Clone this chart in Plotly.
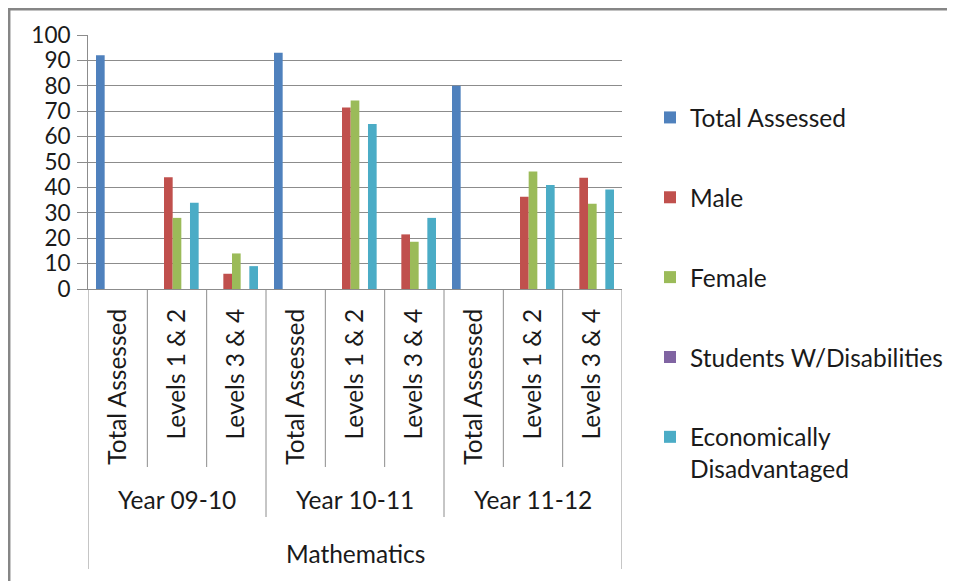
import plotly.graph_objects as go

# ---- data ----
inner_labels = ["Total Assessed", "Levels 1 & 2", "Levels 3 & 4",
                "Total Assessed", "Levels 1 & 2", "Levels 3 & 4",
                "Total Assessed", "Levels 1 & 2", "Levels 3 & 4"]
year_labels = ["Year 09-10", "Year 10-11", "Year 11-12"]
subject_label = "Mathematics"

total_assessed = [92, 0, 0, 93, 0, 0, 80, 0, 0]
male = [0, 44, 6, 0, 71.5, 21.5, 0, 36.3, 43.8]
female = [0, 28, 14, 0, 74.2, 18.6, 0, 46.3, 33.6]
disabilities = [0, 0, 0, 0, 0, 0, 0, 0, 0]
econ = [0, 34, 9, 0, 65, 28, 0, 40.9, 39.2]

series_names = ["Total Assessed", "Male", "Female", "Students W/Disabilities",
                "Economically<br>Disadvantaged"]
series_values = [total_assessed, male, female, disabilities, econ]
colors = ["#4F81BD", "#C0504D", "#9BBB59", "#8064A2", "#4BACC6"]

x_pos = list(range(len(inner_labels)))

FONT = "Lato"
TXT = "#1a1a1a"
GRID = "#8c8c8c"
FS = 24.5

# page body has an 8px margin; compensate so the chart lands where intended
OFF = 8
L, R, T, B = 88 - OFF, 622 - OFF, 35 - OFF, 289 - OFF
W, H = 955, 581
PH = B - T
PW = R - L


def py(px):
    return (B - (px - OFF)) / PH


def pxp(px):
    return ((px - OFF) - L) / PW


def fy(fpx):
    return (B - fpx) / PH


def fx(fpx):
    return (fpx - L) / PW


fig = go.Figure()
for i, (name, vals, col) in enumerate(zip(series_names, series_values, colors)):
    fig.add_trace(go.Bar(
        x=x_pos, y=vals, name=name, marker=dict(color=col, line=dict(width=0)),
        legendgroup=str(i),
    ))

shapes = []
# category dividers below axis
for k in range(len(inner_labels) + 1):
    xv = k - 0.5
    if k == 0 or k == len(inner_labels):
        y1 = py(569)
    elif k % 3 == 0:
        y1 = py(517)
    else:
        y1 = py(467)
    shapes.append(dict(type="line", xref="x", yref="paper", x0=xv, x1=xv,
                       y0=0, y1=y1, line=dict(color=GRID, width=1)))
# outer chart border (top and left), as close to the figure edge as possible
shapes.append(dict(type="line", xref="paper", yref="paper", x0=fx(0), x1=fx(W + 5),
                   y0=fy(1.2), y1=fy(1.2), line=dict(color="#868686", width=2.5)))
shapes.append(dict(type="line", xref="paper", yref="paper", x0=fx(1.2), x1=fx(1.2),
                   y0=fy(0), y1=fy(H + 5), line=dict(color="#868686", width=2.5)))

annotations = []
for g, lab in enumerate(year_labels):
    annotations.append(dict(text=lab, xref="x", yref="paper", x=3 * g + 1, y=py(500),
                            yanchor="middle", showarrow=False,
                            font=dict(family=FONT, size=FS, color=TXT)))
annotations.append(dict(text=subject_label, xref="x", yref="paper", x=4, y=py(553),
                        yanchor="middle", showarrow=False,
                        font=dict(family=FONT, size=FS, color=TXT)))

fig.update_layout(
    width=W, height=H,
    margin=dict(l=L, r=W - R, t=T, b=H - B),
    paper_bgcolor="white", plot_bgcolor="white",
    barmode="group", bargap=0.27, bargroupgap=0,
    font=dict(family=FONT, size=FS, color=TXT),
    shapes=shapes, annotations=annotations,
    legend=dict(x=pxp(650), xanchor="left", y=py(95), yanchor="top",
                tracegroupgap=45, valign="top", maxheight=520,
                font=dict(family=FONT, size=FS, color=TXT)),
    xaxis=dict(range=[-0.5, len(inner_labels) - 0.5], tickvals=x_pos,
               ticktext=inner_labels, tickangle=-90, showgrid=False,
               showline=True, linecolor=GRID, linewidth=1, ticks="",
               ticklabelstandoff=9, zeroline=False, automargin=False,
               tickfont=dict(family=FONT, size=FS, color=TXT)),
    yaxis=dict(range=[0, 100], dtick=10, showgrid=True, gridcolor=GRID, gridwidth=1,
               showline=True, linecolor=GRID, linewidth=1, ticks="outside",
               ticklen=10, tickcolor=GRID, zeroline=False, ticklabelstandoff=2,
               automargin=False, tickfont=dict(family=FONT, size=22.5, color=TXT)),
)

fig.write_html("out.html")
